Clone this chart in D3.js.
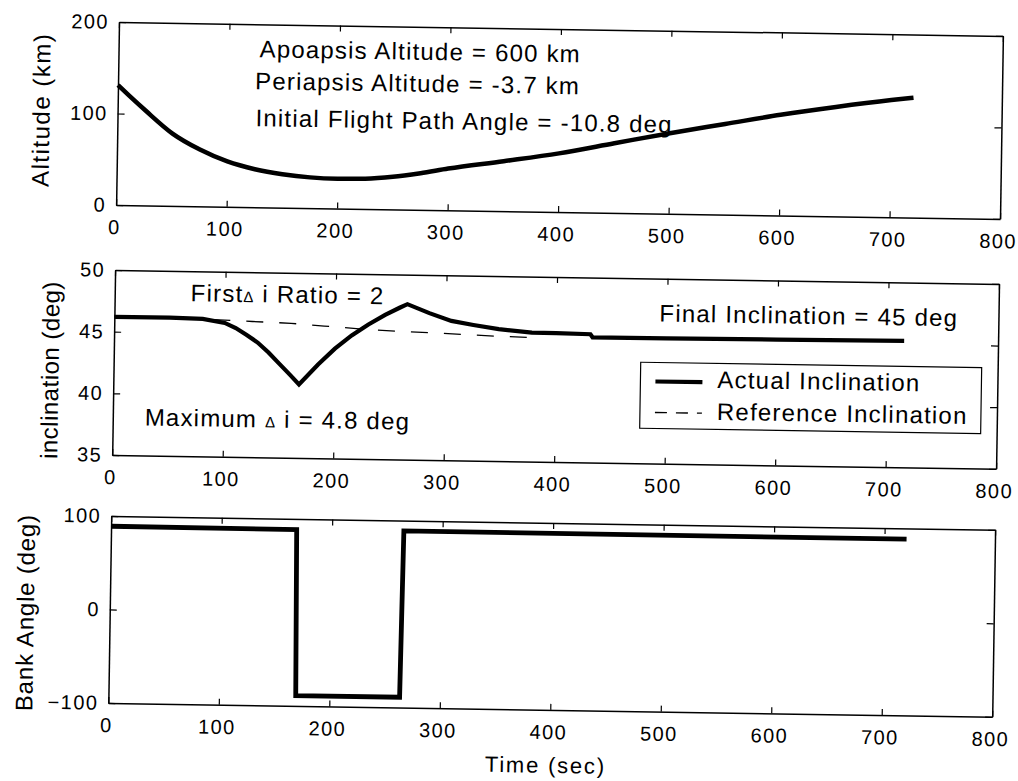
<!DOCTYPE html>
<html>
<head>
<meta charset="utf-8">
<script src="https://cdn.jsdelivr.net/npm/d3@7"></script>
<style>
  body { margin: 0; background: #fff; }
  svg { display: block; font-family: "Liberation Sans", Arial, sans-serif; }
</style>
</head>
<body>
<svg id="chart"></svg>
<script>
const width = 1018;
const height = 781;

// values
const timeTicks = [0, 100, 200, 300, 400, 500, 600, 700, 800];
const altTicks = [0, 100, 200];
const incTicks = [35, 40, 45, 50];
const bankTicks = [-100, 0, 100];

const altTime = [0, 10, 25, 50, 75, 100, 125, 150, 175, 200, 225, 250, 275, 300, 350, 400, 450, 500, 550, 600, 650, 700, 720];
const altitude = [131, 120, 104, 79, 62, 49.5, 41.5, 36.5, 33.5, 32.5, 33, 35.5, 40, 45.5, 54.5, 64, 76, 88, 99, 110, 119.5, 128, 131];

const incTime = [0, 50, 80, 100, 110, 120, 130, 140, 150, 160, 168, 185, 200, 215, 230, 245, 258, 265, 285, 305, 325, 348, 378, 400, 431, 433, 500, 600, 715];
const inclination = [46.2, 46.2, 46.15, 45.85, 45.45, 44.9, 44.3, 43.5, 42.6, 41.7, 40.95, 42.6, 43.9, 45.0, 45.9, 46.7, 47.3, 47.6, 46.9, 46.3, 46.0, 45.7, 45.45, 45.45, 45.4, 45.15, 45.15, 45.2, 45.25];

const refTime = [0, 75, 125, 160, 190, 225, 255, 285, 315, 345, 380];
const refInclination = [46.2, 46.15, 46.0, 45.9, 45.72, 45.52, 45.4, 45.32, 45.22, 45.12, 45.05];

const bankTime = [0, 168, 169.5, 263.5, 265, 720];
const bankAngle = [89, 88.5, -89, -89, 89, 88.5];

const legendItems = ["Actual Inclination", "Reference Inclination"];

const svg = d3.select("#chart").attr("width", width).attr("height", height);
svg.append("rect").attr("width", width).attr("height", height).attr("fill", "#fff");

// the scanned page sits slightly tilted
const page = svg.append("g").attr("transform", "rotate(0.9, 118, 22)");

const x = d3.scaleLinear().domain([0, 800]).range([119, 1003]);
const yAlt = d3.scaleLinear().domain([0, 200]).range([205, 22]);
const yInc = d3.scaleLinear().domain([35, 50]).range([455, 270]);
const yBank = d3.scaleLinear().domain([-100, 100]).range([703, 516]);

const font = "Liberation Sans, Arial, sans-serif";

function styleAxis(g) {
  g.attr("font-family", font).attr("font-size", 20);
  g.select(".domain").attr("stroke-width", 1.5);
  g.selectAll(".tick line").attr("stroke-width", 1.2);
  g.selectAll("text").attr("letter-spacing", 1.4);
}

function drawPanel(y, ticks) {
  const [bottom, top] = y.range();
  page.append("g")
    .attr("transform", `translate(0, ${bottom})`)
    .call(d3.axisBottom(x).tickValues(timeTicks).tickSize(-6).tickSizeOuter(0).tickPadding(15))
    .call(styleAxis)
    .selectAll("text")
    .attr("dx", -2);
  page.append("g")
    .attr("transform", `translate(0, ${top})`)
    .call(d3.axisTop(x).tickValues(timeTicks).tickSize(-6).tickSizeOuter(0).tickFormat(""))
    .call(styleAxis);
  page.append("g")
    .attr("transform", `translate(${x.range()[0]}, 0)`)
    .call(d3.axisLeft(y).tickValues(ticks).tickSize(-7).tickSizeOuter(0).tickPadding(10))
    .call(styleAxis);
  page.append("g")
    .attr("transform", `translate(${x.range()[1]}, 0)`)
    .call(d3.axisRight(y).tickValues(ticks).tickSize(-7).tickSizeOuter(0).tickFormat(""))
    .call(styleAxis);
}

drawPanel(yAlt, altTicks);
drawPanel(yInc, incTicks);
drawPanel(yBank, bankTicks);

function drawLine(times, values, y, opts) {
  page.append("path")
    .datum(d3.zip(times, values))
    .attr("fill", "none")
    .attr("stroke", "#000")
    .attr("stroke-width", opts.width)
    .attr("stroke-dasharray", opts.dash || null)
    .attr("stroke-linejoin", "miter")
    .attr("d", d3.line().x((d) => x(d[0])).y((d) => y(d[1])).curve(opts.curve || d3.curveLinear));
}

drawLine(altTime, altitude, yAlt, { width: 4.5, curve: d3.curveMonotoneX });
drawLine(refTime, refInclination, yInc, { width: 1.3, dash: "17,16" });
drawLine(incTime, inclination, yInc, { width: 4.2 });
drawLine(bankTime, bankAngle, yBank, { width: 4.8 });

// y labels
const yLabels = [
  { text: "Altitude (km)", x: 51, y: 111, spacing: 1.5 },
  { text: "inclination (deg)", x: 64, y: 371, spacing: 0.5 },
  { text: "Bank Angle (deg)", x: 43, y: 614, spacing: 0.8 },
];
page.selectAll(".ylabel")
  .data(yLabels)
  .enter()
  .append("text")
  .attr("class", "ylabel")
  .attr("transform", (d) => `translate(${d.x}, ${d.y}) rotate(-90)`)
  .attr("text-anchor", "middle")
  .attr("font-family", font)
  .attr("font-size", 24)
  .attr("letter-spacing", (d) => d.spacing)
  .text((d) => d.text);

page.append("text")
  .attr("x", 557)
  .attr("y", 766)
  .attr("text-anchor", "middle")
  .attr("font-family", font)
  .attr("font-size", 22)
  .attr("letter-spacing", 1.8)
  .text("Time (sec)");

// annotations; the delta is set smaller like the original symbol font
const notes = [
  { parts: ["Apoapsis Altitude = 600 km"], x: 260, y: 55 },
  { parts: ["Periapsis Altitude = -3.7 km"], x: 256, y: 87 },
  { parts: ["Initial Flight Path Angle = -10.8 deg"], x: 257, y: 124 },
  { parts: ["First", "Δ", " i Ratio = 2"], x: 195, y: 300 },
  { parts: ["Final Inclination = 45 deg"], x: 664, y: 313 },
  { parts: ["Maximum ", "Δ", " i = 4.8 deg"], x: 151, y: 425 },
];
notes.forEach((n) => {
  const t = page.append("text")
    .attr("x", n.x)
    .attr("y", n.y)
    .attr("font-family", font)
    .attr("font-size", 24)
    .attr("letter-spacing", 1.2)
    .attr("xml:space", "preserve");
  n.parts.forEach((p) => {
    t.append("tspan").attr("font-size", p === "Δ" ? 15 : null).text(p);
  });
});

// legend
const legend = page.append("g");
legend.append("rect")
  .attr("x", 646).attr("y", 354)
  .attr("width", 341).attr("height", 66)
  .attr("fill", "#fff")
  .attr("stroke", "#000")
  .attr("stroke-width", 1.2);
legend.selectAll(".swatch")
  .data(legendItems)
  .enter()
  .append("line")
  .attr("x1", 661).attr("x2", 708)
  .attr("y1", (d, i) => 373 + i * 31)
  .attr("y2", (d, i) => 373 + i * 31)
  .attr("stroke", "#000")
  .attr("stroke-width", (d, i) => (i === 0 ? 4.2 : 1.3))
  .attr("stroke-dasharray", (d, i) => (i === 0 ? null : "12,9"));
legend.selectAll(".item")
  .data(legendItems)
  .enter()
  .append("text")
  .attr("x", 723)
  .attr("y", (d, i) => 378.5 + i * 32)
  .attr("font-family", font)
  .attr("font-size", 24)
  .attr("letter-spacing", 1.2)
  .text((d) => d);
</script>
</body>
</html>
